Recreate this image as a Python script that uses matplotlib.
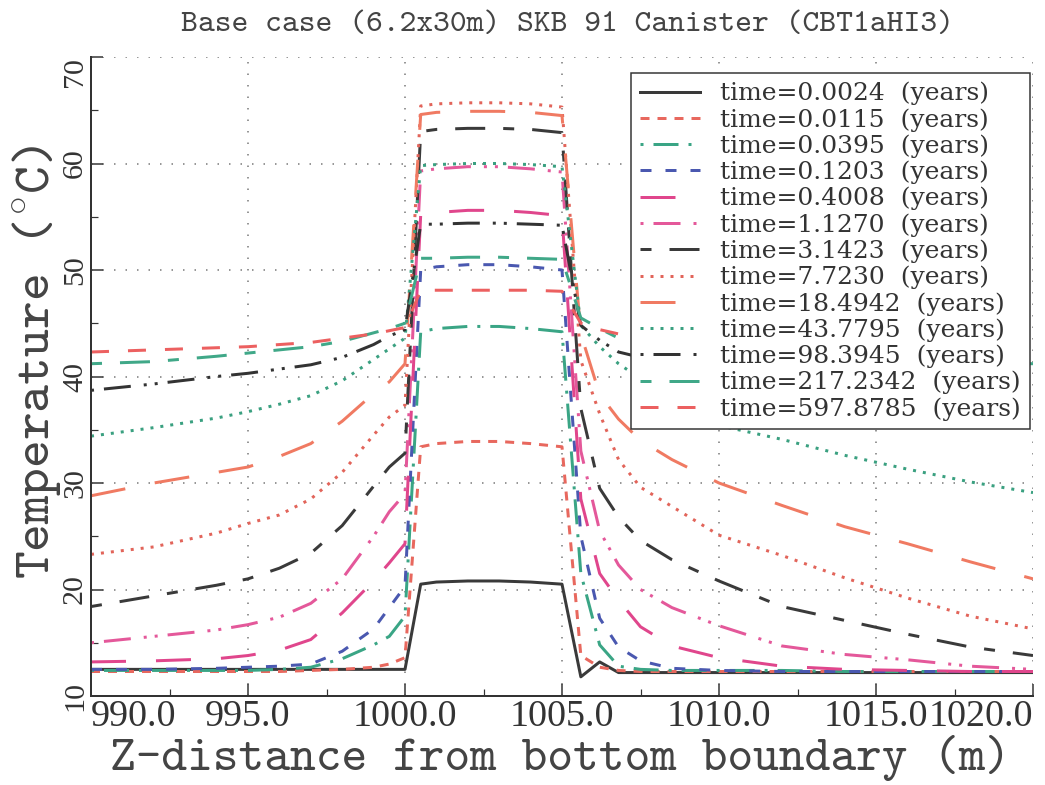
import matplotlib
matplotlib.use("Agg")
import matplotlib.pyplot as plt
from matplotlib.ticker import MultipleLocator

plt.rcParams['lines.scale_dashes'] = False
plt.rcParams['mathtext.fontset'] = 'cm'

# node positions along the borehole (m)
z = [990, 992, 994, 995, 996, 997, 998, 999, 999.5, 1000.0,
     1000.5, 1001, 1002, 1003, 1004, 1005,
     1005.6, 1006.2, 1006.8, 1007.5, 1008.5, 1010, 1012, 1014, 1016, 1018, 1020]

# temperature profiles (deg C)
T_0024 = [12.5, 12.5, 12.5, 12.5, 12.5, 12.5, 12.5, 12.5, 12.5, 12.5,
          20.5, 20.7, 20.8, 20.8, 20.7, 20.5,
          11.8, 13.2, 12.2, 12.2, 12.2, 12.2, 12.2, 12.2, 12.2, 12.2, 12.2]
T_0115 = [12.3, 12.3, 12.3, 12.3, 12.3, 12.4, 12.5, 12.7, 13.0, 13.6,
          33.4, 33.7, 33.9, 33.9, 33.7, 33.4,
          13.8, 12.7, 12.4, 12.3, 12.3, 12.3, 12.3, 12.3, 12.3, 12.3, 12.3]
T_0395 = [12.4, 12.4, 12.4, 12.4, 12.5, 12.7, 13.5, 14.8, 15.6, 17.5,
          44.2, 44.5, 44.7, 44.7, 44.5, 44.2,
          21.5, 14.8, 12.8, 12.5, 12.4, 12.4, 12.4, 12.3, 12.3, 12.3, 12.3]
T_1203 = [12.5, 12.5, 12.6, 12.7, 12.8, 13.0, 14.2, 16.3, 18.3, 20.3,
          50.0, 50.3, 50.5, 50.5, 50.3, 50.0,
          25.0, 17.3, 14.6, 13.3, 12.6, 12.4, 12.3, 12.3, 12.3, 12.3, 12.3]
T_4008 = [13.2, 13.3, 13.5, 13.8, 14.3, 15.3, 17.8, 20.8, 22.5, 24.3,
          55.2, 55.4, 55.6, 55.6, 55.4, 55.1,
          28.5, 21.5, 19.0, 16.5, 14.7, 13.6, 12.8, 12.5, 12.4, 12.3, 12.3]
T_1127 = [15.0, 15.6, 16.2, 16.7, 17.4, 18.7, 21.0, 25.0, 27.3, 29.0,
          59.3, 59.5, 59.7, 59.7, 59.5, 59.2,
          33.0, 25.5, 22.3, 20.0, 18.3, 16.6, 14.7, 13.9, 13.4, 12.8, 12.5]
T_31423 = [18.4, 19.4, 20.4, 21.0, 22.0, 23.4, 26.0, 29.7, 31.5, 32.8,
           63.0, 63.2, 63.3, 63.3, 63.2, 62.9,
           37.0, 29.5, 26.8, 24.6, 22.8, 20.8, 18.4, 17.1, 15.8, 14.6, 13.8]
T_7723 = [23.3, 24.0, 25.3, 26.2, 27.0, 28.5, 31.0, 34.5, 36.2, 37.3,
          65.4, 65.6, 65.7, 65.7, 65.6, 65.3,
          41.5, 36.5, 32.2, 29.6, 27.8, 25.1, 23.2, 21.1, 19.2, 17.5, 16.3]
T_184942 = [28.8, 30.0, 31.0, 31.5, 32.5, 33.7, 35.8, 38.4, 39.5, 41.2,
            64.6, 64.8, 64.9, 64.9, 64.8, 64.5,
            44.0, 38.3, 36.0, 34.0, 32.2, 30.0, 27.9, 25.9, 24.3, 22.6, 21.0]
T_437795 = [34.4, 35.2, 36.1, 36.7, 37.4, 38.2, 39.6, 41.6, 42.6, 43.6,
            59.8, 59.9, 60.0, 60.0, 59.9, 59.7,
            44.8, 42.8, 41.2, 39.8, 37.8, 35.4, 34.1, 32.6, 31.3, 30.1, 29.1]
T_983945 = [38.7, 39.3, 40.0, 40.3, 40.7, 41.1, 41.8, 43.0, 43.8, 44.4,
            54.3, 54.3, 54.4, 54.4, 54.3, 54.2,
            44.8, 43.4, 42.3, 41.8, 41.3, 40.6, 40.0, 39.6, 39.2, 38.9, 38.7]
T_2172342 = [41.2, 41.4, 41.9, 42.2, 42.5, 42.8, 43.3, 44.1, 44.5, 45.0,
             51.1, 51.1, 51.2, 51.2, 51.1, 51.0,
             45.5, 44.5, 43.6, 43.1, 42.7, 42.3, 42.0, 41.7, 41.5, 41.3, 41.2]
T_5978785 = [42.3, 42.5, 42.7, 42.8, 43.0, 43.2, 43.6, 44.0, 44.3, 44.6,
             48.1, 48.1, 48.1, 48.1, 48.1, 48.0,
             45.0, 44.4, 44.0, 43.6, 43.3, 43.0, 42.8, 42.7, 42.5, 42.4, 42.3]

times = ["0.0024", "0.0115", "0.0395", "0.1203", "0.4008", "1.1270", "3.1423",
         "7.7230", "18.4942", "43.7795", "98.3945", "217.2342", "597.8785"]
profiles = [T_0024, T_0115, T_0395, T_1203, T_4008, T_1127, T_31423,
            T_7723, T_184942, T_437795, T_983945, T_2172342, T_5978785]

colors = ['#3a3a3a', '#e8685e', '#3aa585', '#4a58b0', '#e0468c', '#e4589a', '#3a3a3a',
          '#e2645a', '#f07a62', '#3aa080', '#333333', '#40a888', '#ec6060']
styles = ['-', (0, (9, 8)), (0, (3, 10, 25, 10)), (0, (11, 14)), (0, (35, 30)),
          (0, (3, 10, 27, 13, 3, 8)), (0, (11, 18, 30, 18)), (0, (3, 7)), (0, (35, 30)),
          (0, (3, 7)), (0, (3, 10, 27, 13, 3, 8)), (0, (11, 18, 30, 18)), (0, (18, 19))]

W, H = 1045, 785
fig = plt.figure(figsize=(W / 72, H / 72), dpi=72)
ax = fig.add_axes([91 / W, 1 - 696 / H, (1033 - 91) / W, (696 - 57) / H])

for i, prof in enumerate(profiles):
    ax.plot(z, prof, color=colors[i], linestyle=styles[i], linewidth=3,
            label="time=" + times[i] + "  (years)")

ax.set_xlim(990, 1020)
ax.set_ylim(10, 70)

xt = [990, 995, 1000, 1005, 1010, 1015, 1020]
ax.set_xticks(xt)
ax.set_xticklabels(["{:.1f}".format(v) for v in xt], family='Liberation Serif', fontsize=38,
                   color='#333333')
xl = ax.get_xticklabels()
xl[0].set_ha('left')
xl[-1].set_ha('right')

yt = [10, 20, 30, 40, 50, 60, 70]
ax.set_yticks(yt)
ax.set_yticklabels([str(v) for v in yt], family='Liberation Serif', fontsize=30,
                   rotation=90, va='center', color='#333333')
ax.get_yticklabels()[-1].set_va('top')

ax.xaxis.set_minor_locator(MultipleLocator(2.5))
ax.yaxis.set_minor_locator(MultipleLocator(5))
ax.tick_params(which='major', direction='in', length=12, width=1.5, color='#333333')
ax.tick_params(which='minor', direction='in', length=7, width=1.2, color='#333333')
ax.tick_params(axis='x', pad=4)
ax.tick_params(axis='y', pad=3)

ax.grid(True, which='major', color='#777777', linestyle=(0, (1.5, 10)), linewidth=1.5)
for s in ['top', 'right']:
    ax.spines[s].set_visible(False)
for s in ['left', 'bottom']:
    ax.spines[s].set_linewidth(2)
    ax.spines[s].set_color('#333333')

leg = ax.legend(loc='upper right', bbox_to_anchor=(1030 / W, 1 - 73 / H),
                bbox_transform=fig.transFigure, borderaxespad=0,
                prop={'family': 'DejaVu Serif', 'size': 25},
                handlelength=2.4, handletextpad=0.84, borderpad=0.35,
                labelspacing=0.11, fancybox=False, framealpha=1, edgecolor='#333333')
leg.get_frame().set_linewidth(1.5)
for t in leg.get_texts():
    t.set_color('#333333')

fig.text(567 / W, 1 - 25 / H, "Base case (6.2x30m) SKB 91 Canister (CBT1aHI3)",
         family=['cmtt10', 'DejaVu Sans Mono'], fontsize=32, ha='center', va='center', color='#444444')
fig.text(560 / W, 1 - 758 / H, "Z-distance from bottom boundary (m)",
         family=['cmtt10', 'DejaVu Sans Mono'], fontsize=49, ha='center', va='center', color='#444444')
fig.text(37 / W, 1 - 362 / H, r"Temperature ($^{\circ}$C)", rotation=90,
         family=['cmtt10', 'DejaVu Sans Mono'], fontsize=53, ha='center', va='center', color='#444444')

fig.savefig("out.png", dpi=72)
